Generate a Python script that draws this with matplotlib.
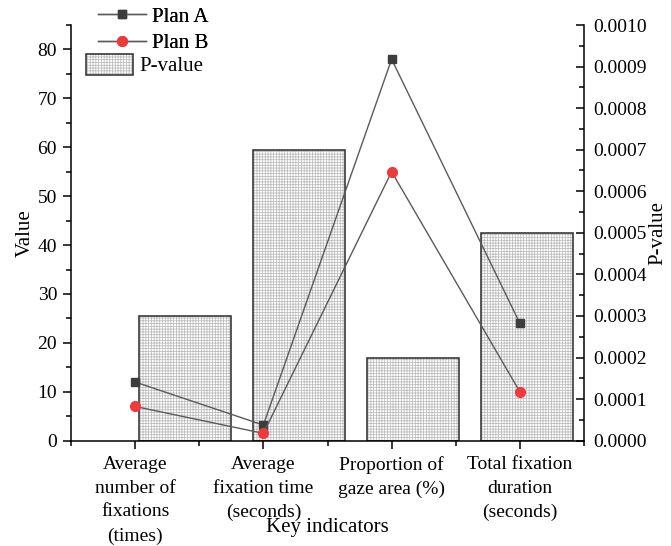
import matplotlib
matplotlib.use("Agg")
import matplotlib.pyplot as plt
from matplotlib.lines import Line2D
from matplotlib.patches import Patch
from matplotlib.legend_handler import HandlerTuple
from matplotlib.ticker import MultipleLocator

categories = ["Average\nnumber of\nfixations\n(times)",
              "Average\nfixation time\n(seconds)",
              "Proportion of\ngaze area (%)",
              "Total fixation\nduration\n(seconds)"]
plan_a = [12, 3.2, 78, 24]
plan_b = [7, 1.5, 55, 10]
p_value = [0.0003, 0.0007, 0.0002, 0.0005]

plt.rcParams['font.family'] = ['Liberation Serif', 'DejaVu Serif']
plt.rcParams['hatch.linewidth'] = 0.55

HATCH_C = '#bcbcbc'
W, H = 671, 546
fig = plt.figure(figsize=(W / 100, H / 100), dpi=100)
L, R, T, B = 71, 584, 25, 440.7
rect = [L / W, 1 - B / H, (R - L) / W, (B - T) / H]

# Bar axes (P-value, right axis)
axb = fig.add_axes(rect)
xb = list(range(1, len(p_value) + 1))
axb.bar(xb, p_value, width=0.8, color='white', edgecolor=HATCH_C,
        hatch='++++++', linewidth=0)
axb.bar(xb, p_value, width=0.8, fill=False, edgecolor='#2a2a2a', linewidth=1.1)
axb.set_xlim(0, 4.5)
axb.set_ylim(0, 0.001)
axb.yaxis.tick_right()
axb.yaxis.set_label_position('right')
axb.set_xticks([])
axb.yaxis.set_major_locator(MultipleLocator(0.0001))
axb.yaxis.set_minor_locator(MultipleLocator(0.00005))
axb.yaxis.set_major_formatter(matplotlib.ticker.FormatStrFormatter('%.4f'))
axb.tick_params(axis='y', which='major', direction='in', length=6, width=1.1,
                labelsize=14, pad=7)
axb.tick_params(axis='y', which='minor', direction='in', length=3.5, width=1.1)
for s in ['top', 'left', 'bottom']:
    axb.spines[s].set_visible(False)
axb.spines['right'].set_linewidth(1.1)
axb.set_ylabel('P-value', fontsize=15, labelpad=1)

# Line axes (Value, left axis)
ax = fig.add_axes(rect)
ax.patch.set_visible(False)
xc = list(range(1, len(categories) + 1))
ax.plot(xc, plan_a, color='#5a5a5a', linewidth=1.0, marker='s',
        markersize=6.2, markerfacecolor='#3d3d3d', markeredgecolor='#3d3d3d',
        label='Plan A', zorder=3)
ax.plot(xc, plan_b, color='#5a5a5a', linewidth=1.0, marker='o',
        markersize=7, markerfacecolor='#ee3a3a', markeredgecolor='#ee3a3a',
        label='Plan B', zorder=3)
ax.set_xlim(0.5, 4.5)
ax.set_ylim(0, 85)
ax.set_xticks(xc)
ax.set_xticklabels(categories, fontsize=14, linespacing=1.52)
ax.xaxis.set_minor_locator(MultipleLocator(0.5))
ax.yaxis.set_major_locator(MultipleLocator(10))
ax.yaxis.set_minor_locator(MultipleLocator(5))
ax.tick_params(axis='both', which='major', direction='out', length=6, width=1.1,
               labelsize=14)
ax.tick_params(axis='both', which='minor', direction='out', length=3.5, width=1.1)
ax.tick_params(axis='x', which='major', pad=5)
ax.tick_params(axis='y', which='major', pad=4)
for s in ['top', 'right']:
    ax.spines[s].set_visible(False)
for s in ['left', 'bottom']:
    ax.spines[s].set_linewidth(1.1)
ax.set_ylabel('Value', fontsize=15, labelpad=2)
ax.set_xlabel('Key indicators', fontsize=15)
ax.xaxis.set_label_coords(0.5, -0.187)

# Legends
h_a = Line2D([], [], color='#5a5a5a', linewidth=1.0, marker='s', markersize=6.2,
             markerfacecolor='#3d3d3d', markeredgecolor='#3d3d3d')
h_b = Line2D([], [], color='#5a5a5a', linewidth=1.0, marker='o', markersize=7,
             markerfacecolor='#ee3a3a', markeredgecolor='#ee3a3a')
leg1 = fig.legend([h_a, h_b], ['Plan A', 'Plan B'], loc='upper left',
                  bbox_to_anchor=(98 / W, 1 - 7 / H), bbox_transform=fig.transFigure,
                  frameon=False, fontsize=15, borderpad=0, borderaxespad=0,
                  handlelength=2.3, handletextpad=0.3, labelspacing=0.33,
                  numpoints=1)
p1 = Patch(facecolor='white', edgecolor=HATCH_C, hatch='++++++', linewidth=0)
p2 = Patch(fill=False, edgecolor='#2a2a2a', linewidth=1.1)
leg2 = fig.legend([(p1, p2)], ['P-value'], loc='upper left',
                  bbox_to_anchor=(86 / W, 1 - 54 / H), bbox_transform=fig.transFigure,
                  frameon=False, fontsize=15, borderpad=0, borderaxespad=0,
                  handlelength=2.26, handleheight=1.15, handletextpad=0.3,
                  handler_map={tuple: HandlerTuple(ndivide=1, pad=0)})
fig.add_artist(leg1)

fig.savefig('out.png', dpi=100)
